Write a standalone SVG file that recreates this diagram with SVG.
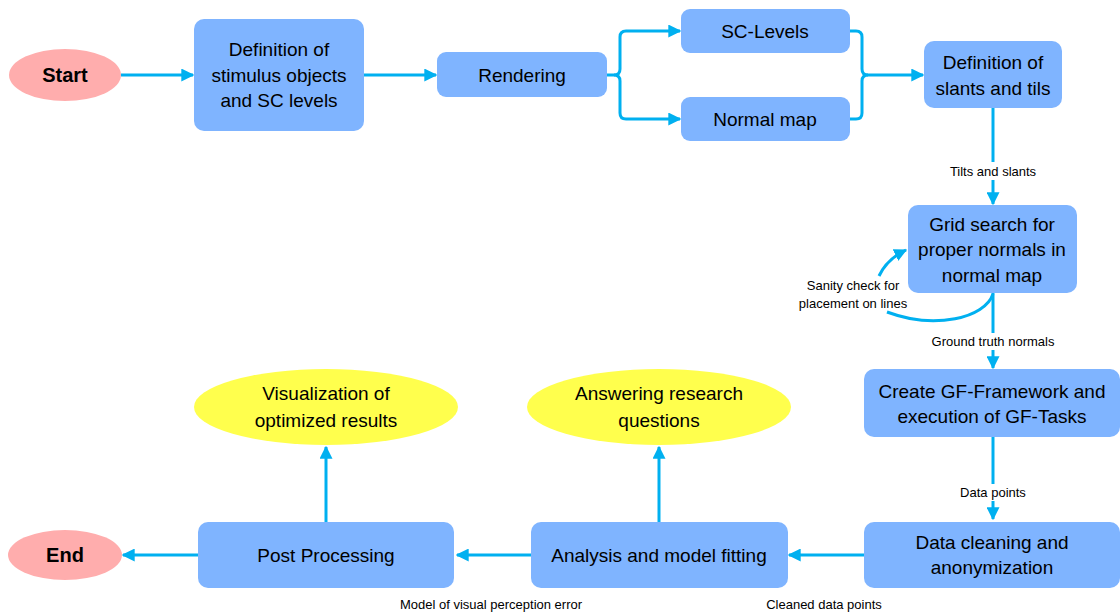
<svg xmlns="http://www.w3.org/2000/svg" width="1120" height="612" viewBox="0 0 1120 612">
<style>
.box{fill:#7FB4FF;}
.term{fill:#FFADAD;}
.out{fill:#FFFF4D;}
.t{font-family:"Liberation Sans",Arial,sans-serif;font-size:19px;fill:#000;text-anchor:middle;dominant-baseline:central;}
.tb{font-family:"Liberation Sans",Arial,sans-serif;font-size:20px;font-weight:bold;fill:#000;text-anchor:middle;dominant-baseline:central;}
.l{font-family:"Liberation Sans",Arial,sans-serif;font-size:13px;fill:#000;text-anchor:middle;dominant-baseline:central;}
.c{fill:none;stroke:#00B0F0;stroke-width:3;}
</style>
<defs>
<marker id="ah" viewBox="0 0 10 10" refX="9" refY="5" markerWidth="13" markerHeight="13" markerUnits="userSpaceOnUse" orient="auto">
<path d="M0,0 L10,5 L0,10 z" fill="#00B0F0"/>
</marker>
</defs>
<rect width="1120" height="612" fill="#fff"/>
<g id="connectors">
<path class="c" d="M121,75 H193" marker-end="url(#ah)"/>
<path class="c" d="M364,75 H436" marker-end="url(#ah)"/>
<path class="c" d="M607,75 H614 Q620,75 620,69 V37 Q620,31 626,31 H680" marker-end="url(#ah)"/>
<path class="c" d="M614,75 Q620,75 620,81 V113 Q620,119 626,119 H680" marker-end="url(#ah)"/>
<path class="c" d="M850,31 H856 Q862,31 862,37 V69 Q862,75 868,75 H923" marker-end="url(#ah)"/>
<path class="c" d="M850,119 H856 Q862,119 862,113 V81 Q862,75 868,75"/>
<path class="c" d="M993,108 V162"/>
<path class="c" d="M993,180 V204" marker-end="url(#ah)"/>
<path class="c" d="M993,293 V333"/>
<path class="c" d="M993,350 V368" marker-end="url(#ah)"/>
<path class="c" d="M993,437 V484"/>
<path class="c" d="M993,501 V519" marker-end="url(#ah)"/>
<path class="c" d="M864,555 H789" marker-end="url(#ah)"/>
<path class="c" d="M531,555 H457" marker-end="url(#ah)"/>
<path class="c" d="M198,555 H123" marker-end="url(#ah)"/>
<path class="c" d="M659,522 V447" marker-end="url(#ah)"/>
<path class="c" d="M326,522 V447" marker-end="url(#ah)"/>
<path class="c" d="M993,294 C985,318 935,330 887,312"/>
<path class="c" d="M879,276 Q887,259 906,250" marker-end="url(#ah)"/>
<text class="l" x="993" y="171">Tilts and slants</text>
<text class="l" x="993" y="341">Ground truth normals</text>
<text class="l" x="993" y="492">Data points</text>
<text class="l" x="853" y="285">Sanity check for</text>
<text class="l" x="853" y="303">placement on lines</text>
<text class="l" x="491" y="604">Model of visual perception error</text>
<text class="l" x="824" y="604">Cleaned data points</text>
</g>
<g id="start"><ellipse class="term" cx="65" cy="75" rx="56" ry="26"/><text class="tb" x="65" y="75">Start</text></g>
<g id="def-stimulus"><rect class="box" x="194" y="19" width="170" height="112" rx="10"/>
<text class="t" x="279" y="49">Definition of</text><text class="t" x="279" y="75">stimulus objects</text><text class="t" x="279" y="100">and SC levels</text></g>
<g id="rendering"><rect class="box" x="437" y="52" width="170" height="45" rx="9"/><text class="t" x="522" y="75">Rendering</text></g>
<g id="sc-levels"><rect class="box" x="681" y="9" width="169" height="44" rx="9"/><text class="t" x="765" y="31">SC-Levels</text></g>
<g id="normal-map"><rect class="box" x="681" y="97" width="169" height="44" rx="9"/><text class="t" x="765" y="119">Normal map</text></g>
<g id="def-slants"><rect class="box" x="924" y="41" width="138" height="67" rx="10"/>
<text class="t" x="993" y="62">Definition of</text><text class="t" x="993" y="88">slants and tils</text></g>
<g id="grid-search"><rect class="box" x="908" y="205" width="169" height="88" rx="10"/>
<text class="t" x="992" y="224">Grid search for</text><text class="t" x="992" y="249">proper normals in</text><text class="t" x="992" y="275">normal map</text></g>
<g id="create-gf"><rect class="box" x="864" y="369" width="256" height="68" rx="10"/>
<text class="t" x="992" y="391">Create GF-Framework and</text><text class="t" x="992" y="416">execution of GF-Tasks</text></g>
<g id="data-cleaning"><rect class="box" x="864" y="522" width="256" height="66" rx="10"/>
<text class="t" x="992" y="542">Data cleaning and</text><text class="t" x="992" y="567">anonymization</text></g>
<g id="analysis"><rect class="box" x="531" y="522" width="257" height="66" rx="10"/><text class="t" x="659" y="555">Analysis and model fitting</text></g>
<g id="post-processing"><rect class="box" x="198" y="522" width="256" height="66" rx="10"/><text class="t" x="326" y="555">Post Processing</text></g>
<g id="end"><ellipse class="term" cx="65" cy="555" rx="57" ry="25"/><text class="tb" x="65" y="555">End</text></g>
<g id="answering"><ellipse class="out" cx="659" cy="407" rx="132" ry="38"/>
<text class="t" x="659" y="393">Answering research</text><text class="t" x="659" y="420">questions</text></g>
<g id="visualization"><ellipse class="out" cx="326" cy="407" rx="132" ry="38"/>
<text class="t" x="326" y="393">Visualization of</text><text class="t" x="326" y="420">optimized results</text></g>
</svg>
